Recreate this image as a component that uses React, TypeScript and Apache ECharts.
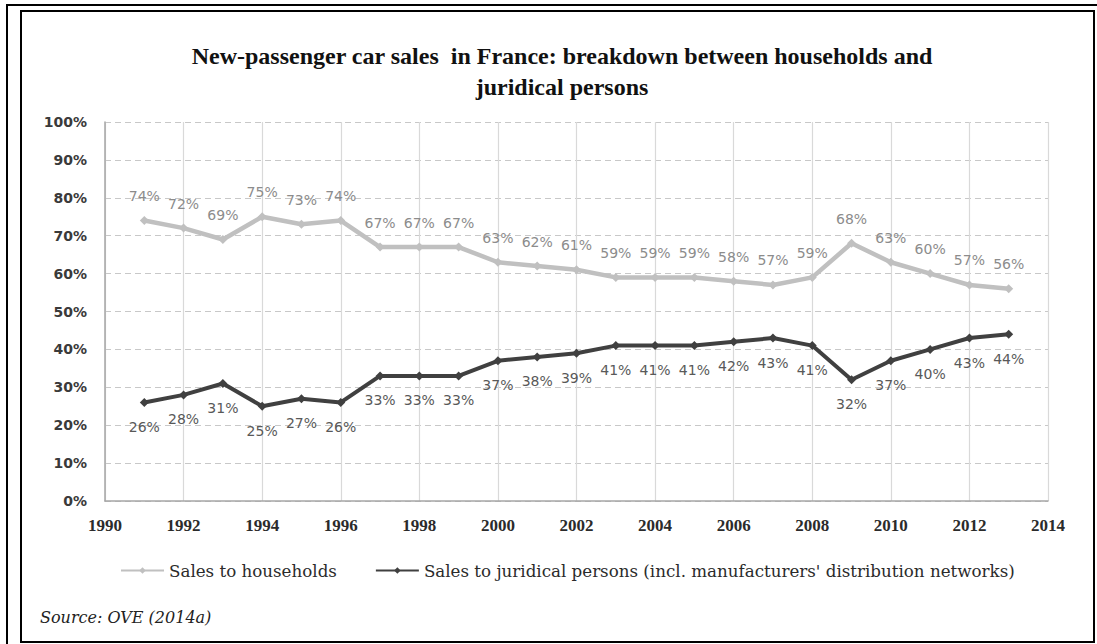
import React, { useEffect, useRef } from "react";
import * as echarts from "echarts";

const years = [1991, 1992, 1993, 1994, 1995, 1996, 1997, 1998, 1999, 2000, 2001, 2002, 2003, 2004, 2005, 2006, 2007, 2008, 2009, 2010, 2011, 2012, 2013];
const households = [74, 72, 69, 75, 73, 74, 67, 67, 67, 63, 62, 61, 59, 59, 59, 58, 57, 59, 68, 63, 60, 57, 56];
const juridical = [26, 28, 31, 25, 27, 26, 33, 33, 33, 37, 38, 39, 41, 41, 41, 42, 43, 41, 32, 37, 40, 43, 44];

const titleText = "New-passenger car sales  in France: breakdown between households and\njuridical persons";
const seriesNames = ["Sales to households", "Sales to juridical persons (incl. manufacturers' distribution networks)"];
const sourceText = "Source: OVE (2014a)";

export default function App() {
  const ref = useRef<HTMLDivElement>(null);
  useEffect(() => {
    if (!ref.current) return;
    const chart = echarts.init(ref.current, null, { renderer: "svg" });
    const pairs = (vals: number[]) => years.map((y, i) => [y, vals[i]]);
    chart.setOption({
      animation: false,
      backgroundColor: "#ffffff",
      title: {
        text: titleText,
        left: 557,
        top: 35,
        textAlign: "center",
        textStyle: {
          fontFamily: "Liberation Serif",
          fontWeight: "bold",
          fontSize: 24,
          lineHeight: 31,
          color: "#111",
        },
      },
      grid: { left: 105, right: 49, top: 122, bottom: 143 },
      xAxis: {
        type: "value",
        min: 1990,
        max: 2014,
        interval: 2,
        axisLine: { show: true, lineStyle: { color: "#a6a6a6", width: 1.5 } },
        axisTick: { show: false },
        splitLine: { show: true, lineStyle: { color: "#d9d9d9", width: 1.2, type: "solid" } },
        axisLabel: {
          margin: 16,
          fontFamily: "Liberation Serif",
          fontWeight: "bold",
          fontSize: 17,
          color: "#2b2b2b",
          formatter: (v: number) => String(v),
        },
      },
      yAxis: {
        type: "value",
        min: 0,
        max: 100,
        interval: 10,
        axisLine: { show: true, lineStyle: { color: "#a6a6a6", width: 1.5 } },
        axisTick: { show: false },
        splitLine: { show: true, lineStyle: { color: "#c8c8c8", width: 1.2, type: [6, 4] } },
        axisLabel: {
          margin: 18,
          fontFamily: "DejaVu Sans",
          fontWeight: "bold",
          fontSize: 14,
          color: "#3a3a3a",
          formatter: (v: number) => v + "%",
        },
      },
      legend: {
        left: 115,
        top: 557,
        itemWidth: 43,
        itemHeight: 8,
        itemGap: 38,
        textStyle: { fontFamily: "DejaVu Serif", fontSize: 16.7, color: "#2b2b2b" },
        data: seriesNames,
      },
      series: [
        {
          name: seriesNames[0],
          type: "line",
          data: pairs(households),
          symbol: "diamond",
          symbolSize: 9,
          lineStyle: { color: "#c0c0c0", width: 4.5 },
          itemStyle: { color: "#c0c0c0" },
          label: {
            show: true,
            position: "top",
            distance: 13,
            fontFamily: "DejaVu Sans",
            fontSize: 14,
            color: "#8c8c8c",
            formatter: (p: any) => p.value[1] + "%",
          },
        },
        {
          name: seriesNames[1],
          type: "line",
          data: pairs(juridical),
          symbol: "diamond",
          symbolSize: 9,
          lineStyle: { color: "#404040", width: 4 },
          itemStyle: { color: "#404040" },
          label: {
            show: true,
            position: "bottom",
            distance: 13,
            fontFamily: "DejaVu Sans",
            fontSize: 14,
            color: "#595959",
            formatter: (p: any) => p.value[1] + "%",
          },
        },
      ],
      graphic: [
        {
          type: "rect",
          shape: { x: 7, y: 5, width: 1110, height: 660 },
          style: { fill: "none", stroke: "#000", lineWidth: 2 },
          silent: true,
        },
        {
          type: "rect",
          shape: { x: 21, y: 11, width: 1073, height: 631 },
          style: { fill: "none", stroke: "#000", lineWidth: 2 },
          silent: true,
        },
        {
          type: "text",
          x: 40,
          y: 617,
          style: {
            text: sourceText,
            fontFamily: "DejaVu Serif",
            fontStyle: "italic",
            fontSize: 16,
            fill: "#222",
            textVerticalAlign: "middle",
          },
        },
      ],
    });
    return () => chart.dispose();
  }, []);
  return (
    <div
      ref={ref}
      style={{ position: "absolute", left: 0, top: 0, width: 1097, height: 644 }}
    />
  );
}
